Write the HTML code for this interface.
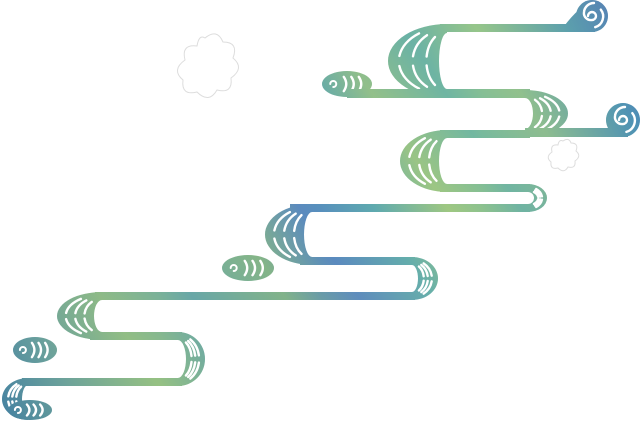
<!DOCTYPE html>
<html><head><meta charset="utf-8"><style>
html,body{margin:0;padding:0;background:#fff;width:642px;height:424px;overflow:hidden}
svg{display:block}
</style></head><body>
<svg id="s" width="642" height="424" viewBox="0 0 642 424" xmlns="http://www.w3.org/2000/svg">
<defs>
<linearGradient id="g" gradientUnits="userSpaceOnUse" x1="0" y1="424" x2="642" y2="0">
<stop offset="0" stop-color="#3f7f9a"/>
<stop offset="0.1" stop-color="#6aa39a"/>
<stop offset="0.2" stop-color="#8fbd83"/>
<stop offset="0.3" stop-color="#5a9fae"/>
<stop offset="0.4" stop-color="#8ab97e"/>
<stop offset="0.48" stop-color="#5b86c0"/>
<stop offset="0.56" stop-color="#58aab0"/>
<stop offset="0.64" stop-color="#9cc77f"/>
<stop offset="0.72" stop-color="#60b0a8"/>
<stop offset="0.8" stop-color="#8cc18c"/>
<stop offset="0.9" stop-color="#4f9fb0"/>
<stop offset="1" stop-color="#5470b8"/>
</linearGradient>
<linearGradient id="g2" gradientUnits="userSpaceOnUse" x1="0" y1="0" x2="642" y2="0">
<stop offset="0" stop-color="#4a7fb0" stop-opacity="0.3"/>
<stop offset="0.25" stop-color="#b0d080" stop-opacity="0.2"/>
<stop offset="0.5" stop-color="#4f90c0" stop-opacity="0.25"/>
<stop offset="0.75" stop-color="#c0d880" stop-opacity="0.2"/>
<stop offset="1" stop-color="#4a6fc0" stop-opacity="0.3"/>
</linearGradient>
</defs>
<g id="flowers" fill="none" stroke="#ddd" stroke-width="1">
<path d="M205 38 q12-10 18 4 q16 0 10 16 q12 10-2 20 q2 16-14 12 q-8 14-20 2 q-16 4-14-12 q-12-10 2-20 q-4-16 12-14 q2-12 8-8z"/>
<path d="M563 141 q6-4 8 2 q8 0 5 8 q6 5-1 10 q1 8-7 6 q-4 7-10 1 q-8 2-7-6 q-6-5 1-10 q-2-8 6-7 q1-6 5-4z"/>
</g>
<g id="shapes"></g>
</svg>
<script>
var g=document.getElementById('shapes'),out='';
function F(d){out+='<path d="'+d+'" fill="url(#g)"/><path d="'+d+'" fill="url(#g2)"/>';}
function W(d,w){out+='<path d="'+d+'" fill="none" stroke="#fff" stroke-width="'+(w||2.4)+'" stroke-linecap="round"/>';}
function bar(x1,x2,y1,y2){F('M'+x1+' '+y1+'H'+x2+'V'+y2+'H'+x1+'Z');}
function bend(xs,xo,y1,y2,t,rxi,dir){
  var R=(y2-y1)/2,rx=Math.abs(xs-xo),ym=(y1+y2)/2;
  var s1=dir<0?0:1,s2=dir<0?1:0;
  F('M'+xs+' '+y1+'A'+rx+' '+R+' 0 0 '+s1+' '+xs+' '+y2+'L'+xs+' '+(y2-t)+'A'+rxi+' '+(R-t)+' 0 0 '+s2+' '+xs+' '+(y1+t)+'Z');
  var n=3;
  for(var k=0;k<n;k++){
    var f=(k+0.7)/(n+0.2);
    var r=rxi+3+(rx-rxi-7)*f, ry=(R-t)+ (t-2)*f;
    for(var side=0;side<2;side++){
      var a0=side?0.15:-0.95,a1=side?0.95:-0.15;
      var x0=xs+dir*r*Math.cos(a0),y0=ym+ry*Math.sin(a0),x1=xs+dir*r*Math.cos(a1),y1b=ym+ry*Math.sin(a1);
      W('M'+x0.toFixed(1)+' '+y0.toFixed(1)+'A'+r.toFixed(1)+' '+ry.toFixed(1)+' 0 0 '+(dir<0?0:1)+' '+x1.toFixed(1)+' '+y1b.toFixed(1));
    }
  }
}
function cap(cx,cy,rx,ry,dir){
  F('M'+(cx)+' '+(cy-ry)+'A'+rx+' '+ry+' 0 1 0 '+(cx+0.01)+' '+(cy-ry)+'Z');
  for(var k=0;k<3;k++){
    var x=cx+dir*(-rx*0.55+k*rx*0.3);
    W('M'+(x+dir*2)+' '+(cy-ry*0.55)+'Q'+(x-dir*3)+' '+cy+' '+(x+dir*2)+' '+(cy+ry*0.55));
  }
  var sx=cx+dir*rx*0.55;
  W('M'+sx+' '+cy+'m-3 0a3 3 0 1 1 3 3',2);
}
function spiral(cx,cy,r){
  F('M'+cx+' '+(cy-r)+'A'+r+' '+r+' 0 1 1 '+(cx-0.01)+' '+(cy-r)+'Z');
  W('M'+(cx-4)+' '+cy+'a4 4 0 1 1 4 4 a7 7 0 0 1-8-8 a10 10 0 0 1 10-9');
  W('M'+(cx+r*0.55)+' '+(cy-r*0.4)+'A'+(r*0.7)+' '+(r*0.7)+' 0 0 1 '+(cx+r*0.2)+' '+(cy+r*0.7));
}
// upper group
bar(440,595,24,32); F('M560 32 Q575 10 590 2 L600 20 Q590 30 575 32Z'); spiral(592,16,16);
bend(447,388,24,98,9,8,-1);
cap(347,84,25,13,-1);
bar(347,530,89,98);
bend(525,568,90,137,8,8,1);
bar(525,628,128,137); spiral(623,120,17);
bar(440,530,130,138);
bend(447,400,130,192,8,8,-1);
bar(440,530,184,192);
bend(528,547,184,212,8,6,1);
bar(290,530,204,212);
// lower group
bend(312,265,204,265,8,8,-1);
bar(300,415,257,265);
cap(248,268,26,13,-1);
bend(412,438,257,300,8,6,1);
bar(95,415,292,300);
bend(102,57,292,340,8,8,-1);
bar(90,182,332,340);
cap(35,350,22,13,-1);
bend(178,205,332,386,8,8,1);
bar(22,182,378,386);
bend(28,2,378,420,7,6,-1);
cap(30,410,22,10,-1);
g.innerHTML=out;
</script>
</body></html>
